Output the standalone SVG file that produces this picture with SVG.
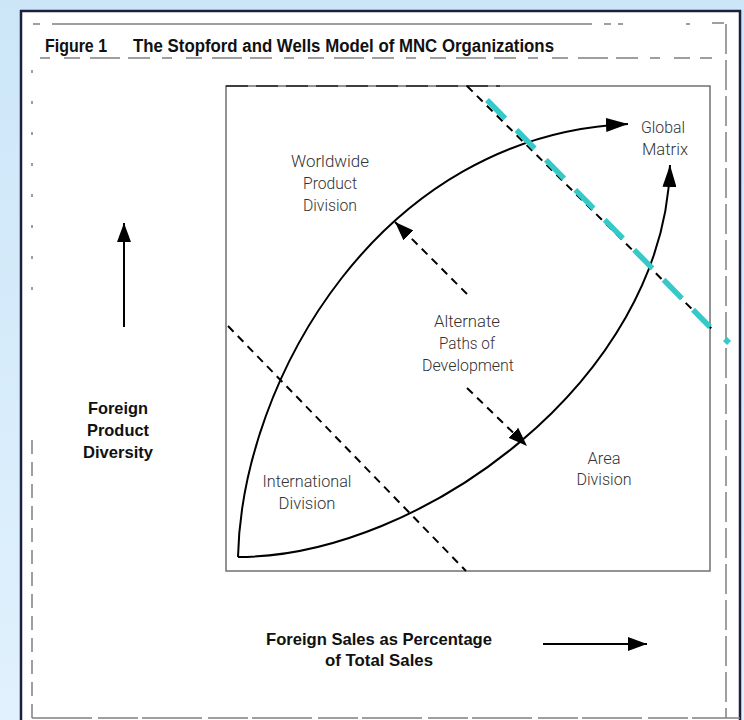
<svg xmlns="http://www.w3.org/2000/svg" width="744" height="720" viewBox="0 0 744 720">
<defs>
<linearGradient id="bg" x1="0" y1="0" x2="0" y2="1"><stop offset="0" stop-color="#cce6f8"/><stop offset="1" stop-color="#e1f1fd"/></linearGradient>
<marker id="ah" markerUnits="userSpaceOnUse" markerWidth="24" markerHeight="14" refX="22" refY="7" orient="auto"><path d="M0,0 L22,7 L0,14 z" fill="#000"/></marker>
<marker id="ahs" markerUnits="userSpaceOnUse" markerWidth="20" markerHeight="14" refX="19" refY="7" orient="auto"><path d="M0,0 L19,7 L0,14 z" fill="#000"/></marker>
</defs>
<style>
.bold{font-family:"Liberation Sans Narrow","Liberation Sans",Arial,sans-serif;font-weight:bold;fill:#111}
.lt{font-family:Roboto,"Liberation Sans",sans-serif;font-weight:300;fill:#333;font-size:17px;text-anchor:middle}
.scan{stroke:#808080;stroke-width:1.5;fill:none}
.dash{stroke:#000;stroke-width:2;fill:none;stroke-dasharray:8 6}
.curve{stroke:#000;stroke-width:2;fill:none}
</style>
<rect x="0" y="0" width="744" height="720" fill="url(#bg)"/>
<g id="panel">
<rect x="21" y="10" width="720" height="712" fill="#fff"/>
<path d="M21,10 V720 M20,11 H741 M740,10 V720" stroke="#1c1f3f" stroke-width="2.5" fill="none"/>
<path class="scan" d="M33,24 H40 M52,24 H592 M604,24 H611 M618,24 H623 M686,24 H690 M712,23 H724"/>
<path class="scan" d="M40,58 H712" stroke-dasharray="10 14 16 10 30 8 22 12"/>
<path class="scan" d="M32,70 V300" stroke-dasharray="3 28"/>
<path class="scan" d="M32,440 V718" stroke-dasharray="14 8"/>
<path class="scan" d="M726,24 V718" stroke-dasharray="30 6"/>
<path class="scan" d="M32,718 H740" stroke-dasharray="60 6 40 4"/>
</g>
<g id="plot-box">
<rect x="226" y="86" width="484" height="485" fill="none" stroke="#707070" stroke-width="1.5"/>
<path d="M226,86 H500" stroke="#222" stroke-width="1.5" stroke-dasharray="22 8" fill="none"/>
</g>
<g id="title">
<text class="bold" x="45" y="52" font-size="18" textLength="62" lengthAdjust="spacingAndGlyphs">Figure 1</text>
<text class="bold" x="133" y="52" font-size="18" textLength="421" lengthAdjust="spacingAndGlyphs">The Stopford and Wells Model of MNC Organizations</text>
</g>
<g id="connectors">
<path class="curve" d="M238,557 C242,380 380,135 628,124" marker-end="url(#ah)"/>
<path class="curve" d="M238,557 C420,557 665,380 670,165" marker-end="url(#ah)"/>
<path class="dash" d="M228,326 L466,571"/>
<path class="dash" d="M467,294 L395,222" marker-end="url(#ahs)"/>
<path class="dash" d="M467,388 L527,446" marker-end="url(#ahs)"/>
<path class="dash" d="M467,86 L712,329"/>
<path d="M487,100 L710,327" stroke="#35c9c8" stroke-width="5.5" stroke-dasharray="26 16" fill="none"/>
<polygon points="727,337 731,341 727,345 723,341" fill="#35c9c8"/>
<path class="curve" d="M124,327 V223" marker-end="url(#ahs)"/>
<path class="curve" d="M543,644 H647" marker-end="url(#ahs)"/>
</g>
<g id="axis-y">
<text class="bold" x="118" y="414" font-size="17" text-anchor="middle" textLength="60" lengthAdjust="spacingAndGlyphs">Foreign</text>
<text class="bold" x="118" y="436" font-size="17" text-anchor="middle" textLength="62" lengthAdjust="spacingAndGlyphs">Product</text>
<text class="bold" x="118" y="458" font-size="17" text-anchor="middle" textLength="70" lengthAdjust="spacingAndGlyphs">Diversity</text>
</g>
<g id="axis-x">
<text class="bold" x="379" y="645" font-size="17" text-anchor="middle" textLength="226" lengthAdjust="spacingAndGlyphs">Foreign Sales as Percentage</text>
<text class="bold" x="379" y="666" font-size="17" text-anchor="middle" textLength="108" lengthAdjust="spacingAndGlyphs">of Total Sales</text>
</g>
<g id="worldwide-product-division">
<text class="lt" x="330" y="167" textLength="78" lengthAdjust="spacingAndGlyphs">Worldwide</text>
<text class="lt" x="330" y="189" textLength="54" lengthAdjust="spacingAndGlyphs">Product</text>
<text class="lt" x="330" y="211" textLength="54" lengthAdjust="spacingAndGlyphs">Division</text>
</g>
<g id="global-matrix">
<text class="lt" x="663" y="133" textLength="44" lengthAdjust="spacingAndGlyphs">Global</text>
<text class="lt" x="665" y="155" textLength="46" lengthAdjust="spacingAndGlyphs">Matrix</text>
</g>
<g id="alternate-paths">
<text class="lt" x="467" y="327" textLength="66" lengthAdjust="spacingAndGlyphs">Alternate</text>
<text class="lt" x="467" y="349" textLength="56" lengthAdjust="spacingAndGlyphs">Paths of</text>
<text class="lt" x="468" y="371" textLength="92" lengthAdjust="spacingAndGlyphs">Development</text>
</g>
<g id="area-division">
<text class="lt" x="604" y="464" textLength="33" lengthAdjust="spacingAndGlyphs">Area</text>
<text class="lt" x="604" y="485" textLength="55" lengthAdjust="spacingAndGlyphs">Division</text>
</g>
<g id="international-division">
<text class="lt" x="307" y="487" textLength="89" lengthAdjust="spacingAndGlyphs">International</text>
<text class="lt" x="307" y="509" textLength="57" lengthAdjust="spacingAndGlyphs">Division</text>
</g>
</svg>
